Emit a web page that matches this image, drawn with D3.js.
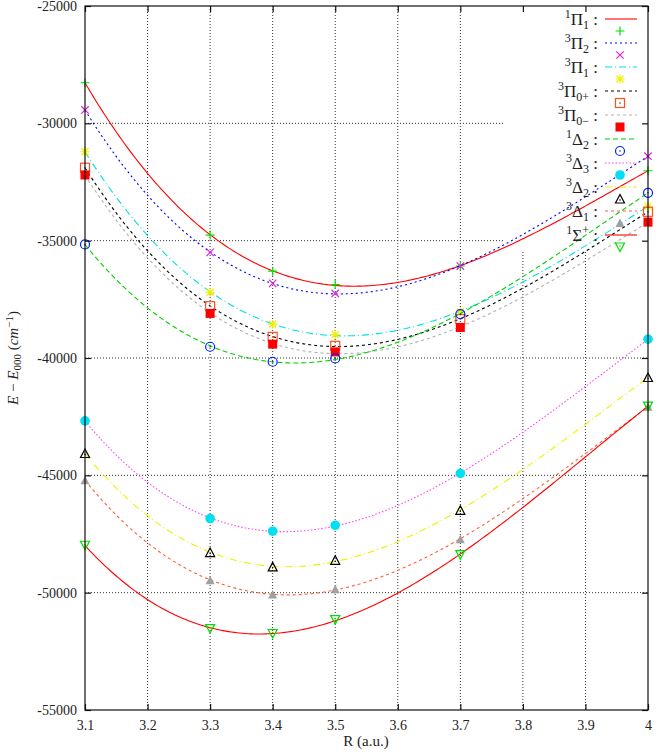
<!DOCTYPE html>
<html><head><meta charset="utf-8">
<script src="https://cdn.jsdelivr.net/npm/d3@7"></script>
<style>
body{margin:0;background:#fff;}
svg text, svg tspan{font-family:"Liberation Serif","Times New Roman","DejaVu Serif",serif !important;fill:#222;}
</style></head>
<body><svg id="chart" width="671" height="753"></svg>
<script>
// ---------- data ----------
const R = [3.1, 3.3, 3.4, 3.5, 3.7, 4.0];
const xTickValues = [3.1, 3.2, 3.3, 3.4, 3.5, 3.6, 3.7, 3.8, 3.9, 4.0];
const xTickLabels = ["3.1","3.2","3.3","3.4","3.5","3.6","3.7","3.8","3.9","4"];
const yTickValues = [-25000,-30000,-35000,-40000,-45000,-50000,-55000];
const yTickLabels = ["-25000","-30000","-35000","-40000","-45000","-50000","-55000"];

const pi1_1   = [-28270, -34760, -36300, -36870, -36080, -32020];
const pi3_2   = [-29430, -35500, -36820, -37250, -36080, -31400];
const pi3_1   = [-31210, -37200, -38560, -39000, -38030, -33530];
const pi3_0p  = [-31890, -37790, -39100, -39480, -38340, -33770];
const pi3_0m  = [-32200, -38100, -39410, -39740, -38700, -34210];
const delta1_2 = [-35160, -39520, -40160, -40020, -38130, -32960];
const delta3_3 = [-42680, -46840, -47380, -47130, -44920, -39200];
const delta3_2 = [-44070, -48290, -48900, -48620, -46490, -40830];
const delta3_1 = [-45210, -49470, -50080, -49850, -47720, -42080];
const sigma1p  = [-47980, -51530, -51740, -51150, -48380, -42050];

// label parts: [superscript, letter, subscript, superscript-after]
const labels = [
  ["1","Π","1",""],["3","Π","2",""],["3","Π","1",""],["3","Π","0+",""],["3","Π","0−",""],
  ["1","Δ","2",""],["3","Δ","3",""],["3","Δ","2",""],["3","Δ","1",""],["1","Σ","","+"]
];
const values = [pi1_1, pi3_2, pi3_1, pi3_0p, pi3_0m, delta1_2, delta3_3, delta3_2, delta3_1, sigma1p];

// ---------- styles ----------
const styles = [
  {line:"#ff0000", dash:null,        mk:"plus",   mc:"#00e000"},
  {line:"#0000ff", dash:"2,3",       mk:"cross",  mc:"#e020e0"},
  {line:"#00e0e0", dash:"7,3,1,3",   mk:"star",   mc:"#f0f000"},
  {line:"#000000", dash:"3,3",       mk:"square", mc:"#ff5020"},
  {line:"#b0b0b0", dash:"3,3",       mk:"fsquare",mc:"#ff0000"},
  {line:"#00d000", dash:"5,3",       mk:"circle", mc:"#0020ff"},
  {line:"#ff40ff", dash:"1.5,2",     mk:"fcircle",mc:"#00e0f0"},
  {line:"#f0f000", dash:"7,3,1,3",   mk:"tri",    mc:"#000000"},
  {line:"#ff6030", dash:"3,3",       mk:"ftri",   mc:"#a0a0a0"},
  {line:"#ff0000", dash:null,        mk:"dtri",   mc:"#00e000"}
];

const FONT = "'Liberation Serif','Times New Roman','DejaVu Serif',serif";
const svg = d3.select("#chart");
const L=85, Rr=648, T=6, B=710;
const x = d3.scaleLinear().domain([3.1,4.0]).range([L,Rr]);
const y = d3.scaleLinear().domain([-55000,-25000]).range([B,T]);

// grid
const g = svg.append("g");
g.selectAll("line.vg").data(xTickValues.slice(1,-1)).enter().append("line")
  .attr("x1",d=>x(d)).attr("x2",d=>x(d)).attr("y1",T).attr("y2",B)
  .attr("stroke","#333").attr("stroke-width",1).attr("stroke-dasharray","1,2");
g.selectAll("line.hg").data(yTickValues.slice(1,-1)).enter().append("line")
  .attr("y1",d=>y(d)).attr("y2",d=>y(d)).attr("x1",L).attr("x2",Rr)
  .attr("stroke","#333").attr("stroke-width",1).attr("stroke-dasharray","1,2");
// key background masks the grid
svg.append("rect").attr("x",503).attr("y",T).attr("width",Rr-503).attr("height",252-T).attr("fill","#fff");

// axes with mirrored inward ticks
function axisLayer(){
  const a = svg.append("g");
  a.append("rect").attr("x",L).attr("y",T).attr("width",Rr-L).attr("height",B-T)
    .attr("fill","none").attr("stroke","#111").attr("stroke-width",1.2);
  const ax = d3.axisBottom(x).tickValues(xTickValues).tickSize(-6).tickFormat((d,i)=>xTickLabels[i]).tickPadding(10);
  const gb = a.append("g").attr("transform",`translate(0,${B})`).call(ax);
  const gt = a.append("g").attr("transform",`translate(0,${T})`).call(d3.axisTop(x).tickValues(xTickValues).tickSize(-6).tickFormat(""));
  const ay = d3.axisLeft(y).tickValues(yTickValues).tickSize(-6).tickFormat((d,i)=>yTickLabels[i]).tickPadding(8);
  const gl = a.append("g").attr("transform",`translate(${L},0)`).call(ay);
  const gr = a.append("g").attr("transform",`translate(${Rr},0)`).call(d3.axisRight(y).tickValues(yTickValues).tickSize(-6).tickFormat(""));
  [gb,gt,gl,gr].forEach(s=>{s.attr("font-family",FONT); s.select(".domain").remove(); s.selectAll(".tick line").attr("stroke","#111").attr("stroke-width",1.2);});
  a.selectAll(".tick text").attr("font-family",FONT).attr("font-size",14).attr("fill","#222");
}

// cubic least-squares fit (same as the original fitted curves)
function fitCubic(xs, ys){
  const n=4, A=[...Array(n)].map(()=>Array(n+1).fill(0));
  xs.forEach((xv,k)=>{ const u=xv-3.5;
    for(let i=0;i<n;i++){ for(let j=0;j<n;j++) A[i][j]+=Math.pow(u,i+j); A[i][n]+=ys[k]*Math.pow(u,i);} });
  for(let c=0;c<n;c++){ let p=c; for(let r=c+1;r<n;r++) if(Math.abs(A[r][c])>Math.abs(A[p][c])) p=r;
    [A[c],A[p]]=[A[p],A[c]];
    for(let r=0;r<n;r++){ if(r===c) continue; const f=A[r][c]/A[c][c]; for(let k=c;k<=n;k++) A[r][k]-=f*A[c][k]; } }
  const co=A.map((row,i)=>row[n]/row[i]);
  return xv=>{const u=xv-3.5; return co[0]+co[1]*u+co[2]*u*u+co[3]*u*u*u;};
}

const line = d3.line().x(d=>x(d[0])).y(d=>y(d[1]));
const samples = d3.range(0,201).map(i=>3.1+i*0.9/200);

function marker(sel, type, color){
  const s=4.5;
  if(type==="plus") sel.append("path").attr("d",`M${-s},0H${s}M0,${-s}V${s}`).attr("stroke",color).attr("stroke-width",1.2).attr("fill","none");
  else if(type==="cross") sel.append("path").attr("d",`M${-s+0.8},${-s+0.8}L${s-0.8},${s-0.8}M${-s+0.8},${s-0.8}L${s-0.8},${-s+0.8}`).attr("stroke",color).attr("stroke-width",1.2).attr("fill","none");
  else if(type==="star") sel.append("path").attr("d",`M${-s},0H${s}M0,${-s}V${s}M${-s+1},${-s+1}L${s-1},${s-1}M${-s+1},${s-1}L${s-1},${-s+1}`).attr("stroke",color).attr("stroke-width",1.2).attr("fill","none");
  else if(type==="square"){ sel.append("rect").attr("x",-s).attr("y",-s).attr("width",2*s).attr("height",2*s).attr("fill","none").attr("stroke",color).attr("stroke-width",1.2);
    sel.append("rect").attr("x",-0.8).attr("y",-0.8).attr("width",1.6).attr("height",1.6).attr("fill",color);}
  else if(type==="fsquare") sel.append("rect").attr("x",-s).attr("y",-s).attr("width",2*s).attr("height",2*s).attr("fill",color);
  else if(type==="circle"){ sel.append("circle").attr("r",s).attr("fill","none").attr("stroke",color).attr("stroke-width",1.2);
    sel.append("circle").attr("r",0.8).attr("fill",color);}
  else if(type==="fcircle") sel.append("circle").attr("r",s+0.3).attr("fill",color);
  else if(type==="tri"){ sel.append("path").attr("d",`M0,${-s}L${s},${s-0.5}L${-s},${s-0.5}Z`).attr("fill","none").attr("stroke",color).attr("stroke-width",1.2);
    sel.append("circle").attr("r",0.8).attr("cy",1).attr("fill",color);}
  else if(type==="ftri") sel.append("path").attr("d",`M0,${-s}L${s},${s-0.5}L${-s},${s-0.5}Z`).attr("fill",color);
  else if(type==="dtri"){ sel.append("path").attr("d",`M0,${s}L${s},${-s+0.5}L${-s},${-s+0.5}Z`).attr("fill","none").attr("stroke",color).attr("stroke-width",1.2);
    sel.append("circle").attr("r",0.8).attr("cy",-1).attr("fill",color);}
}

// plots
const plot = svg.append("g");
values.forEach((vals,i)=>{
  const st=styles[i];
  const f=fitCubic(R,vals);
  plot.append("path").datum(samples.map(t=>[t,f(t)])).attr("d",line)
    .attr("fill","none").attr("stroke",st.line).attr("stroke-width",1.1)
    .attr("stroke-dasharray",st.dash);
  R.forEach((r,k)=>{ const m=plot.append("g").attr("transform",`translate(${x(r)},${y(vals[k])})`); marker(m,st.mk,st.mc); });
});

// key
const key = svg.append("g").attr("font-family",FONT);
labels.forEach((lb,i)=>{
  const st=styles[i];
  const ly=19+24*i;
  const t=key.append("text").attr("x",598).attr("y",ly+6).attr("text-anchor","end").attr("font-size",17);
  t.append("tspan").text(lb[0]).attr("font-size",12).attr("dy",-7);
  t.append("tspan").text(lb[1]).attr("dy",7);
  if(lb[2]){ t.append("tspan").text(lb[2]).attr("font-size",12).attr("dy",4); t.append("tspan").text(" :").attr("dy",-4); }
  else { t.append("tspan").text(lb[3]).attr("font-size",12).attr("dy",-7); t.append("tspan").text(" :").attr("dy",7); }
  key.append("line").attr("x1",605).attr("x2",637).attr("y1",ly).attr("y2",ly)
    .attr("stroke",st.line).attr("stroke-width",1.1).attr("stroke-dasharray",st.dash);
  const m=key.append("g").attr("transform",`translate(620,${ly+12})`); marker(m,st.mk,st.mc);
});

axisLayer();

// axis titles
svg.append("text").attr("x",366).attr("y",746).attr("text-anchor","middle").attr("font-size",15).attr("font-family",FONT).text("R (a.u.)");
const yt = svg.append("text").attr("transform","translate(18,358) rotate(-90)").attr("text-anchor","middle").attr("font-size",15).attr("font-family",FONT);
yt.append("tspan").text("E").attr("font-style","italic");
yt.append("tspan").text(" − ");
yt.append("tspan").text("E").attr("font-style","italic");
yt.append("tspan").text("000").attr("font-size",11).attr("dy",3);
yt.append("tspan").text(" (").attr("dy",-3);
yt.append("tspan").text("cm").attr("font-style","italic");
yt.append("tspan").text("−1").attr("font-size",11).attr("dy",-5);
yt.append("tspan").text(")").attr("dy",5);
</script></body></html>
